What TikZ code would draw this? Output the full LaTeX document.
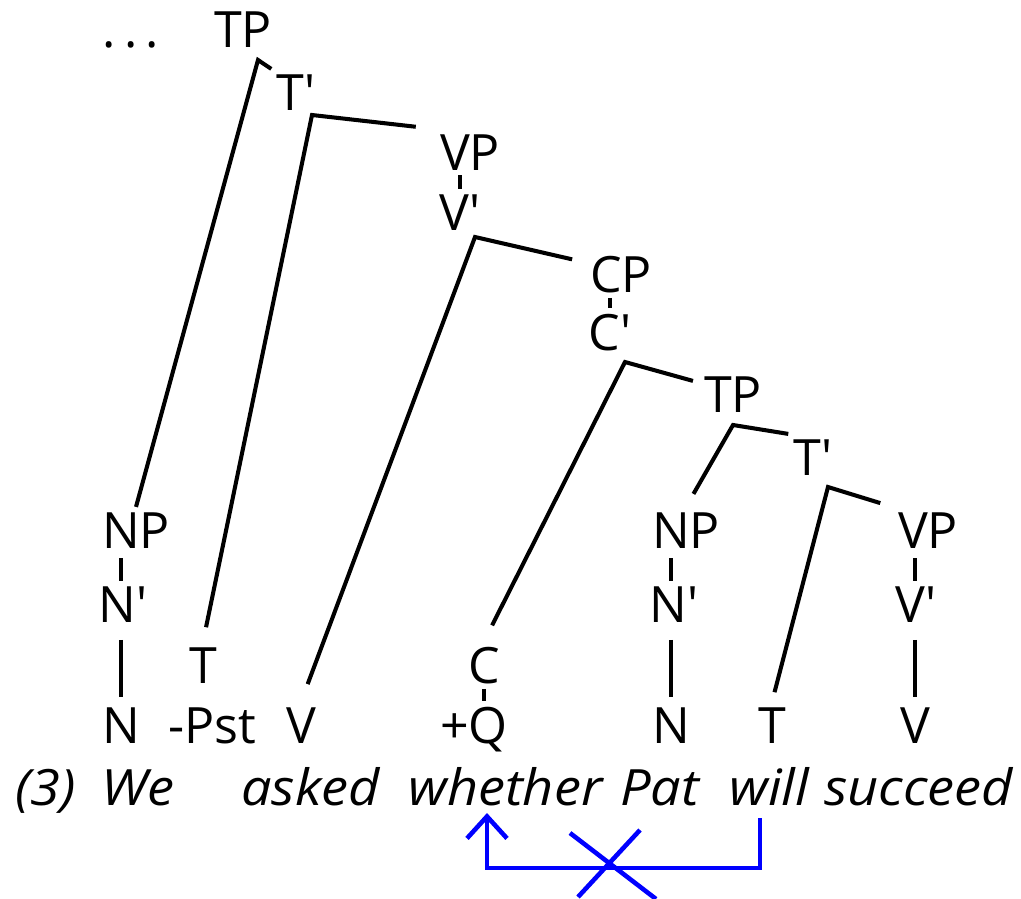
\documentclass[tikz,border=0pt]{standalone}
\usepackage{fontspec}
\setmainfont{Open Sans}
\usetikzlibrary{arrows.meta, calc}
\definecolor{moveblue}{RGB}{0, 0, 255}
\newcommand{\pr}{\textquotesingle}

\begin{document}
\begin{tikzpicture}[
    x=0.02cm, y=-0.02cm,
    every node/.style={font=\fontsize{28.5}{34}\selectfont, inner sep=0.1cm},
    cat/.style={anchor=base},
    word/.style={anchor=base west, font=\fontsize{28.5}{34}\selectfont\itshape\addfontfeatures{FakeStretch=1.08}},
    branch/.style={line width=2.3pt},
    tick/.style={branch, shorten <=0.1cm},
    stem/.style={branch, shorten <=0.25cm, shorten >=0.1cm},
    move/.style={draw=moveblue, line width=2.6pt}
]
\useasboundingbox (0,0) rectangle (1021,899);

\node[cat] (dots) at (131,48) {.\,.\,.};
\node[cat] (tp1) at (243,48) {TP};
\node[cat] (tb1) at (296,110) {T\pr};
\node[cat] (vp1) at (470,170) {VP};
\node[cat] (vb1) at (460,230) {V\pr};
\node[cat] (cp) at (621,292) {CP};
\node[cat] (cb) at (610,350) {C\pr};
\node[cat] (tp2) at (733,412) {TP};
\node[cat] (tb2) at (813,475) {T\pr};
\node[cat] (np1) at (136,548) {NP};
\node[cat] (nb1) at (123,622) {N\pr};
\node[cat] (n1) at (121,743) {N};
\node[cat] (t1) at (203,683) {T};
\node[cat] (pst) at (212,743) {-Pst};
\node[cat] (v1) at (301,743) {V};
\node[cat] (c) at (484,683) {C};
\node[cat] (q) at (474,743) {+Q};
\node[cat] (np2) at (686,548) {NP};
\node[cat] (nb2) at (674,622) {N\pr};
\node[cat] (n2) at (671,743) {N};
\node[cat] (t2) at (772,743) {T};
\node[cat] (vp2) at (928,548) {VP};
\node[cat] (vb2) at (916,622) {V\pr};
\node[cat] (v2) at (915,743) {V};

\node[word] (ex) at (10,805) {(3)};
\node[word] (we) at (96,805) {We};
\node[word] (asked) at (236,805) {asked};
\node[word] (whether) at (403,805) {whether};
\node[word] (pat) at (615,805) {Pat};
\node[word] (will) at (724,805) {will};
\node[word] (succeed) at (819,805) {succeed};

% branching points
\coordinate (tp1v) at (258,60);
\coordinate (tb1v) at (312,115);
\coordinate (vb1v) at (475,237);
\coordinate (cbv) at (625,362);
\coordinate (tp2v) at (733,425);
\coordinate (tb2v) at (828,487);

\draw[branch] (np1.north) -- (tp1v) -- (tb1.north west);
\draw[branch, shorten <=0.3cm, shorten >=0.38cm] (t1.north) -- (tb1v) -- (vp1.north west);
\draw[branch, shorten <=0.38cm, shorten >=0.26cm] (v1.north) -- (vb1v) -- ($(cp.west)!0.5!(cp.north west)$);
\draw[branch, shorten <=0.36cm, shorten >=0.12cm] (c.north) -- (cbv) -- ($(tp2.west)!0.5!(tp2.north west)$);
\draw[branch, shorten <=0.3cm] (np2.north) -- (tp2v) -- (tb2.north west);
\draw[branch, shorten <=0.2cm, shorten >=0.26cm] (t2.north) -- (tb2v) -- (vp2.north west);

\draw[branch] (vb1 |- vp1.south) -- (vb1.north);
\draw[branch] (cb |- cp.south) -- (cb.north);
\draw[branch] (c.south) -- (c |- q.north);
\draw[tick] (n1 |- np1.south) -- (n1 |- nb1.north);
\draw[stem] (n1 |- nb1.south) -- (n1.north);
\draw[tick] (n2 |- np2.south) -- (n2 |- nb2.north);
\draw[stem] (n2 |- nb2.south) -- (n2.north);
\draw[tick] (v2 |- vp2.south) -- (v2 |- vb2.north);
\draw[stem] (v2 |- vb2.south) -- (v2.north);

% blocked movement
\coordinate (mvfrom) at (760,818);
\coordinate (mvto) at (487,813);
\coordinate (block) at (610,866);
\draw[move, -{Straight Barb[length=0.44cm, width=0.8cm]}] (mvfrom) -- ++(0,50) -| (mvto);
\draw[move] ($(block)+(-40,-33)$) -- ($(block)+(46,33)$);
\draw[move] ($(block)+(30,-36)$) -- ($(block)+(-32,31)$);
\end{tikzpicture}
\end{document}
